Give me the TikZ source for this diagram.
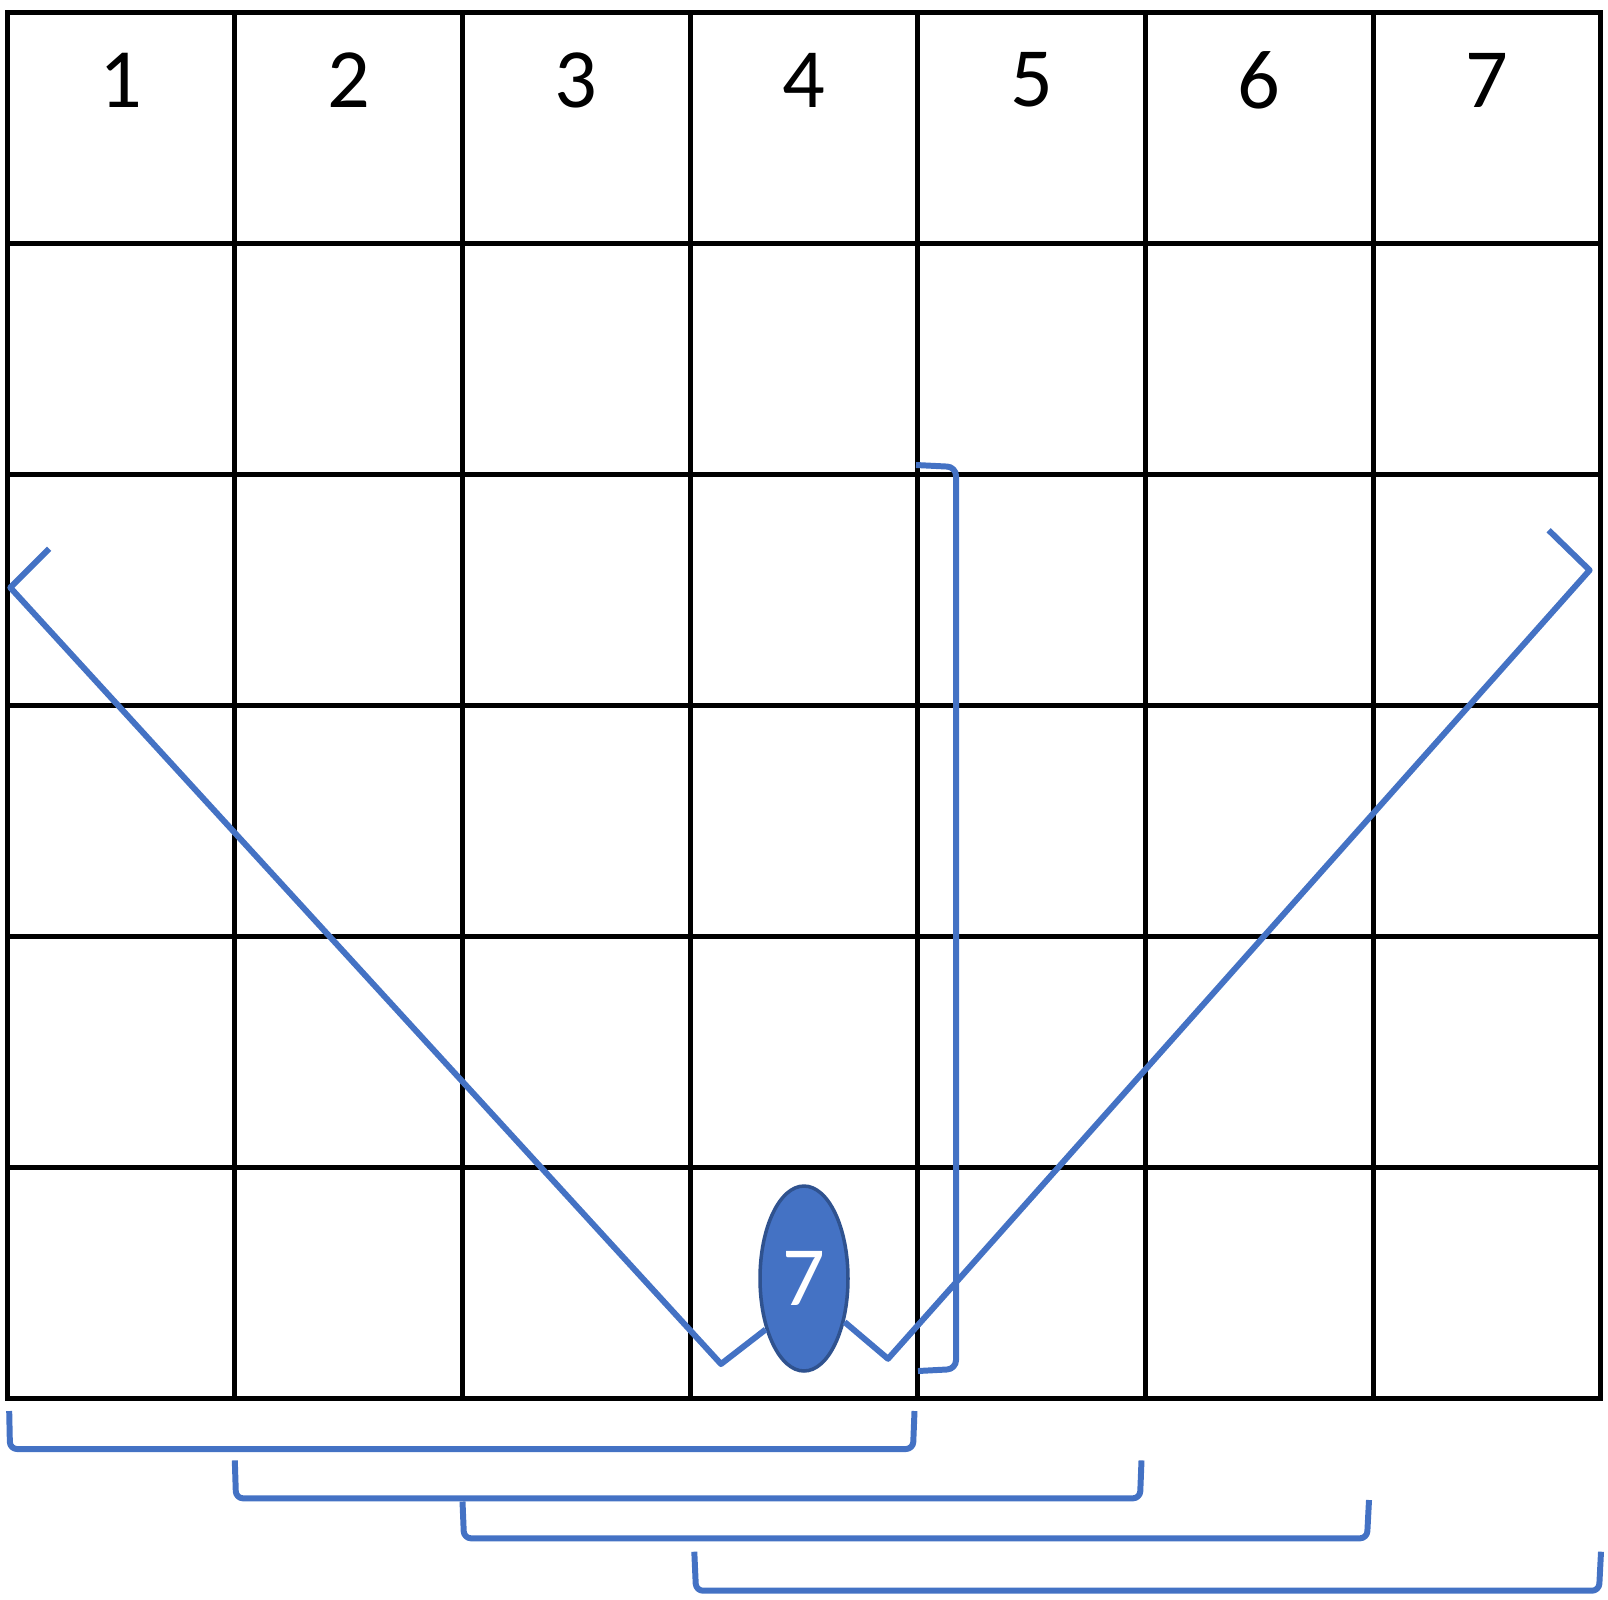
\documentclass[tikz,border=0pt]{standalone}
\usepackage{fontspec}
\setmainfont{Carlito}
\usepackage{xcolor}
\usetikzlibrary{shapes.geometric}

\definecolor{lineblue}{HTML}{4472C4}
\definecolor{darkblue}{HTML}{2F528F}

\tikzset{
  gridline/.style={line width=2.8pt, black},
  blueline/.style={line width=3.4pt, lineblue, line join=round},
  numlabel/.style={font=\fontsize{48}{48}\selectfont, inner sep=0pt},
}

\begin{document}
\begin{tikzpicture}[x=0.02cm, y=-0.02cm]
    \useasboundingbox (0,0) rectangle (1608,1599);

    % grid
    \foreach \i in {0,...,7}
        \draw[gridline] ({7.2+227.66*\i},12.3) -- ({7.2+227.66*\i},1398.9);
    \foreach \j in {0,...,6}
        \draw[gridline] (5.2,{12.3+231.1*\j}) -- (1602.8,{12.3+231.1*\j});

    % column numbers
    \foreach \i in {1,...,7}
        \node[numlabel] (n\i) at ({7.2+227.66*(\i-0.5)},80) {\i};

    % the marked cell
    \node[ellipse, draw=darkblue, fill=lineblue, line width=2pt,
          minimum width=1.76cm, minimum height=3.7cm, inner sep=0pt,
          text=white, numlabel] (seven) at (804,1278.5) {7};

    % left and right diagonals
    \draw[blueline] (49.2,548.7) -- (10.3,587.6) -- (721,1364) -- (seven.233);
    \draw[blueline] (1548.6,530.2) -- (1589.6,570.2) -- (888,1358.8) -- (seven.-47);

    % vertical bracket
    \draw[blueline, rounded corners=5] (916,465) -- (956,467) -- (956,1369) -- (918,1371);

    % brackets below the grid
    \draw[blueline, rounded corners=4] (9.2,1411) -- (10,1449) -- (913,1449) -- (914.5,1411);
    \draw[blueline, rounded corners=4] (234.8,1460.4) -- (236,1498.3) -- (1140,1498.3) -- (1141.5,1460.4);
    \draw[blueline, rounded corners=4] (462.5,1501.5) -- (464,1538.3) -- (1367,1538.3) -- (1369,1500);
    \draw[blueline, rounded corners=4] (694.3,1551.7) -- (696,1590.7) -- (1599,1590.7) -- (1601,1551.7);
\end{tikzpicture}
\end{document}
